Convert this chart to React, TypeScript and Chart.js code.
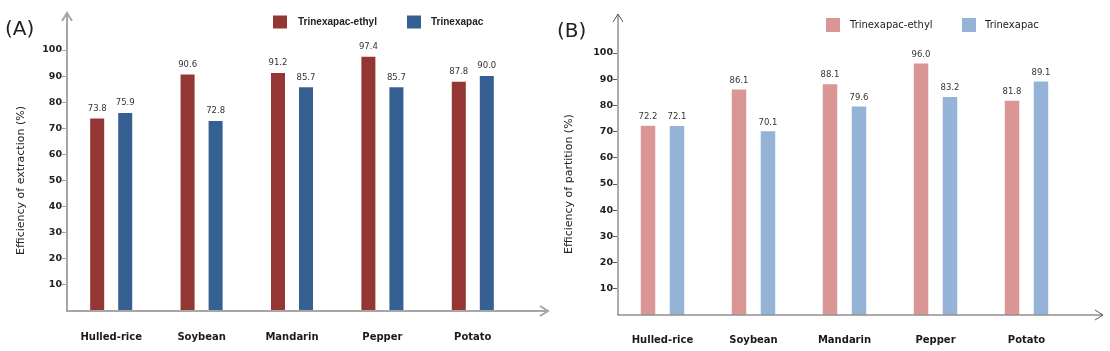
import React, { useEffect, useRef } from "react";
import { Chart, registerables } from "chart.js";

Chart.register(...registerables);

const categories = ["Hulled-rice", "Soybean", "Mandarin", "Pepper", "Potato"];
const seriesNames = ["Trinexapac-ethyl", "Trinexapac"];
const extractionEthyl = [73.8, 90.6, 91.2, 97.4, 87.8];
const extractionAcid = [75.9, 72.8, 85.7, 85.7, 90.0];
const partitionEthyl = [72.2, 86.1, 88.1, 96.0, 81.8];
const partitionAcid = [72.1, 70.1, 79.6, 83.2, 89.1];
const yMin = 0;
const yMax = 100;
const yStep = 10;

type PanelCfg = {
  label: string;
  labelX: number;
  labelY: number;
  yTitle: string;
  titlePad: number;
  a: number[];
  b: number[];
  colors: string[];
  axisColor: string;
  axisWidth: number;
  padTop: number;
  padRight: number;
  yWidth: number;
  xHeight: number;
  xPad: number;
  catPct: number;
  yTipY: number;
  xTipX: number;
  axisOffset: number;
  legend: { sq: number[]; tx: number; }[];
  legendY: number;
  sqH: number;
  legendFont: string;
  valueGap: number;
};

function Panel({ cfg }: { cfg: PanelCfg }) {
  const ref = useRef<HTMLCanvasElement | null>(null);
  useEffect(() => {
    if (!ref.current) return;
    const deco = {
      id: "deco",
      afterDatasetsDraw(chart: any) {
        const ctx = chart.ctx;
        ctx.save();
        ctx.font = "8.5px 'DejaVu Sans'";
        ctx.fillStyle = "#333";
        ctx.textAlign = "center";
        ctx.textBaseline = "middle";
        chart.data.datasets.forEach((ds: any, di: number) => {
          const meta = chart.getDatasetMeta(di);
          meta.data.forEach((bar: any, i: number) => {
            ctx.fillText(Number(ds.data[i]).toFixed(1), bar.x, bar.y - cfg.valueGap);
          });
        });
        ctx.restore();
      },
      afterDraw(chart: any) {
        const ctx = chart.ctx;
        const area = chart.chartArea;
        const ax = area.left + cfg.axisOffset;
        const ay = area.bottom;
        ctx.save();
        ctx.strokeStyle = cfg.axisColor;
        ctx.lineWidth = cfg.axisWidth;
        ctx.beginPath();
        ctx.moveTo(ax, ay);
        ctx.lineTo(ax, cfg.yTipY);
        ctx.moveTo(ax - 5, cfg.yTipY + 8);
        ctx.lineTo(ax, cfg.yTipY);
        ctx.lineTo(ax + 5, cfg.yTipY + 8);
        ctx.moveTo(ax - cfg.axisWidth / 2, ay);
        ctx.lineTo(cfg.xTipX, ay);
        ctx.moveTo(cfg.xTipX - 8, ay - 5);
        ctx.lineTo(cfg.xTipX, ay);
        ctx.lineTo(cfg.xTipX - 8, ay + 5);
        ctx.stroke();
        ctx.lineWidth = 1;
        ctx.restore();

        ctx.save();
        ctx.fillStyle = "#222";
        ctx.font = "20px 'DejaVu Sans'";
        ctx.textBaseline = "middle";
        ctx.textAlign = "left";
        ctx.fillText(cfg.label, cfg.labelX, cfg.labelY);
        cfg.legend.forEach((lg, i) => {
          ctx.fillStyle = cfg.colors[i];
          ctx.fillRect(lg.sq[0], cfg.legendY - cfg.sqH / 2, lg.sq[1], cfg.sqH);
          ctx.fillStyle = "#222";
          ctx.font = cfg.legendFont;
          ctx.fillText(seriesNames[i], lg.tx, cfg.legendY);
        });
        ctx.restore();
      },
    };
    const chart = new Chart(ref.current, {
      type: "bar",
      data: {
        labels: categories,
        datasets: [
          { label: seriesNames[0], data: cfg.a, backgroundColor: cfg.colors[0], borderWidth: 0, categoryPercentage: cfg.catPct, barPercentage: 0.5 },
          { label: seriesNames[1], data: cfg.b, backgroundColor: cfg.colors[1], borderWidth: 0, categoryPercentage: cfg.catPct, barPercentage: 0.5 },
        ],
      },
      options: {
        animation: false,
        responsive: false,
        maintainAspectRatio: false,
        events: [],
        layout: { padding: { top: cfg.padTop, right: cfg.padRight, left: 0, bottom: 0 } },
        plugins: { legend: { display: false }, tooltip: { enabled: false } },
        scales: {
          x: {
            grid: { display: false, drawTicks: false },
            border: { display: false },
            ticks: { padding: cfg.xPad, color: "#1a1a1a", font: { family: "'DejaVu Sans'", size: 10, weight: "bold" }, maxRotation: 0 },
            afterFit(scale: any) { scale.height = cfg.xHeight; },
          },
          y: {
            min: yMin,
            max: yMax,
            grid: {
              display: true,
              drawOnChartArea: false,
              drawTicks: true,
              tickLength: 4,
              color: (c: any) => (c.tick && c.tick.value === 0 ? "rgba(0,0,0,0)" : cfg.axisColor),
            },
            border: { display: false },
            ticks: {
              stepSize: yStep,
              padding: 0,
              autoSkip: false,
              color: "#1f1f1f",
              font: { family: "'DejaVu Sans'", size: 9.5, weight: "bold" },
              callback: (v: any) => (Number(v) === 0 ? "" : String(v)),
            },
            title: {
              display: true,
              text: cfg.yTitle,
              color: "#222",
              font: { family: "'DejaVu Sans'", size: 11 },
              padding: { top: cfg.titlePad, bottom: 0 },
            },
            afterFit(scale: any) { scale.width = cfg.yWidth; },
          },
        },
      },
      plugins: [deco],
    } as any);
    return () => chart.destroy();
  }, [cfg]);
  return <canvas ref={ref} width={555} height={351} style={{ width: 555, height: 351, display: "block" }} />;
}

const panelA: PanelCfg = {
  label: "(A)", labelX: 5, labelY: 30,
  yTitle: "Efficiency of extraction (%)", titlePad: 15,
  a: extractionEthyl, b: extractionAcid,
  colors: ["#943634", "#376092"],
  axisColor: "#a6a6a6", axisWidth: 2,
  padTop: 50, padRight: 37, yWidth: 66, xHeight: 40, xPad: 20, catPct: 0.62,
  yTipY: 13, xTipX: 548, axisOffset: 1,
  legend: [{ sq: [273, 14], tx: 298 }, { sq: [407, 14], tx: 431 }],
  legendY: 22, sqH: 13, legendFont: "bold 10px 'Liberation Sans'",
  valueGap: 10,
};

const panelB: PanelCfg = {
  label: "(B)", labelX: 2, labelY: 32,
  yTitle: "Efficiency of partition (%)", titlePad: 8,
  a: partitionEthyl, b: partitionAcid,
  colors: ["#d99694", "#95b3d7"],
  axisColor: "#595959", axisWidth: 1,
  padTop: 53, padRight: 38, yWidth: 62, xHeight: 36, xPad: 19, catPct: 0.637,
  yTipY: 14, xTipX: 548, axisOffset: 1,
  legend: [{ sq: [271, 14], tx: 295 }, { sq: [407, 14], tx: 430 }],
  legendY: 25, sqH: 14, legendFont: "10px 'DejaVu Sans'",
  valueGap: 9,
};

export default function App() {
  return (
    <div style={{ position: "fixed", left: 0, top: 0, width: 1110, height: 351, background: "#fff", display: "flex" }}>
      <Panel cfg={panelA} />
      <Panel cfg={panelB} />
    </div>
  );
}
